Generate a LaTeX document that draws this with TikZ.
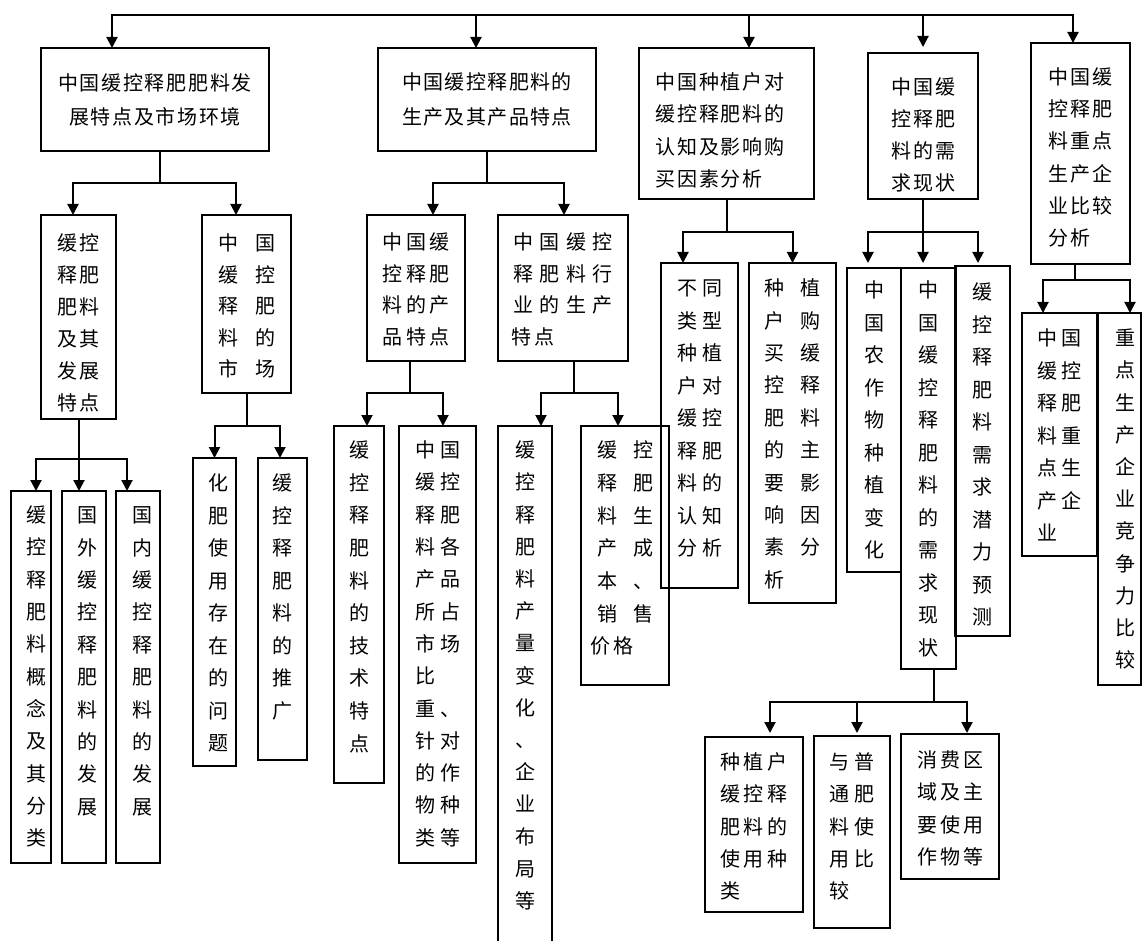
\documentclass[tikz,border=0pt]{standalone}
\usepackage{fontspec}
\setmainfont{Noto Sans CJK SC}
\usetikzlibrary{arrows.meta,calc}
\makeatletter
\newcommand\spaced[2]{\def\sp@w{#1}\@tfor\sp@c:=#2\do{\makebox[\sp@w][c]{\sp@c}}}
\makeatother
\tikzset{
  box/.style={draw,line width=1.4pt,inner xsep=0pt,outer sep=0pt},
  boxline/.style={line width=1.4pt},
  conn/.style={line width=2pt},
  arr/.style={line width=2pt,-{Triangle[width=11pt,length=11pt]}}
}
% box: name, x1, y1, x2, y2, pad to first char centre, column spec, baselineskip, rows
\newcommand\bx[9]{%
  \pgfmathsetmacro\bxw{#4-#2}%
  \pgfmathsetmacro\bxh{#5-#3}%
  \pgfmathsetmacro\bxs{#6-0.7*#8+7.6}%
  \pgfmathsetmacro\bxp{\bxh-2*\bxs}%
  \pgfmathsetmacro\bxcx{(#2+#4)/2}%
  \pgfmathsetmacro\bxcy{(#3+#5)/2}%
  \node[box,minimum width=\bxw pt,minimum height=\bxh pt,inner ysep=\bxs pt] (#1) at (\bxcx,\bxcy)
   {\parbox[c][\bxp pt][t]{\bxw pt}{\centering\fontsize{20pt}{#8pt}\selectfont\begin{tabular}{#7}#9\end{tabular}}};}
\begin{document}
\begin{tikzpicture}[x=1pt,y=-1pt]
\useasboundingbox (0,0) rectangle (1143,941);
\fill[white] (0,0) rectangle (1143,941);
\clip (0,0) rectangle (1143,941);

% level 1
\bx{B1}{41}{48}{269}{151}{35}{@{}c@{}}{34}{\spaced{21.7pt}{中国缓控释肥肥料发}\\\spaced{21.7pt}{展特点及市场环境}}
\bx{B2}{378}{48}{596}{151}{34}{@{}c@{}}{35}{\spaced{21.4pt}{中国缓控释肥料的}\\\spaced{21.4pt}{生产及其产品特点}}
\bx{B3}{639}{48}{814}{199}{34}{@{}l@{\hspace{13pt}}}{32.4}{\spaced{21.7pt}{中国种植户对}\\\spaced{21.7pt}{缓控释肥料的}\\\spaced{21.7pt}{认知及影响购}\\\spaced{21.7pt}{买因素分析}}
\bx{B4}{868}{53}{978}{199}{34}{@{}l@{}}{32}{\spaced{22pt}{中国缓}\\\spaced{22pt}{控释肥}\\\spaced{22pt}{料的需}\\\spaced{22pt}{求现状}}
\bx{B5}{1031}{43}{1130}{264}{34}{@{}l@{}}{32.2}{\spaced{22.3pt}{中国缓}\\\spaced{22.3pt}{控释肥}\\\spaced{22.3pt}{料重点}\\\spaced{22.3pt}{生产企}\\\spaced{22.3pt}{业比较}\\\spaced{22.3pt}{分析}}

% branch 1
\bx{A1}{41}{215}{116}{419}{28}{@{}l@{}}{32}{\spaced{22pt}{缓控}\\\spaced{22pt}{释肥}\\\spaced{22pt}{肥料}\\\spaced{22pt}{及其}\\\spaced{22pt}{发展}\\\spaced{22pt}{特点}}
\bx{A2}{202}{215}{291}{393}{28}{@{}l@{}}{31.5}{\spaced{37pt}{中国}\\\spaced{37pt}{缓控}\\\spaced{37pt}{释肥}\\\spaced{37pt}{料的}\\\spaced{37pt}{市场}}
\bx{A11}{11}{491}{51}{863}{24}{@{\hspace{10pt}}c@{}}{32.3}{缓\\控\\释\\肥\\料\\概\\念\\及\\其\\分\\类}
\bx{A12}{62}{491}{106}{863}{24}{@{\hspace{6pt}}c@{}}{32.4}{国\\外\\缓\\控\\释\\肥\\料\\的\\发\\展}
\bx{A13}{116}{491}{160}{863}{24}{@{\hspace{8pt}}c@{}}{32.4}{国\\内\\缓\\控\\释\\肥\\料\\的\\发\\展}
\bx{A21}{193}{458}{236}{766}{25}{@{\hspace{7pt}}c@{}}{32.5}{化\\肥\\使\\用\\存\\在\\的\\问\\题}
\bx{A22}{258}{458}{307}{760}{25}{@{}c@{}}{32.5}{缓\\控\\释\\肥\\料\\的\\推\\广}

% branch 2
\bx{C1}{367}{215}{465}{361}{27}{@{}c@{}}{31.7}{\spaced{23.3pt}{中国缓}\\\spaced{23.3pt}{控释肥}\\\spaced{23.3pt}{料的产}\\\spaced{23.3pt}{品特点}}
\bx{C2}{498}{215}{628}{361}{27}{@{}l@{}}{31.7}{\spaced{26.3pt}{中国缓控}\\\spaced{26.3pt}{释肥料行}\\\spaced{26.3pt}{业的生产}\\\spaced{23pt}{特点}}
\bx{C11}{334}{426}{384}{783}{24}{@{}c@{}}{32.6}{缓\\控\\释\\肥\\料\\的\\技\\术\\特\\点}
\bx{C12}{399}{426}{476}{863}{24}{@{}l@{}}{32.3}{\spaced{25pt}{中国}\\\spaced{25pt}{缓控}\\\spaced{25pt}{释肥}\\\spaced{25pt}{料各}\\\spaced{25pt}{产品}\\\spaced{25pt}{所占}\\\spaced{25pt}{市场}\\\spaced{25pt}{比}\\\spaced{25pt}{重、}\\\spaced{25pt}{针对}\\\spaced{25pt}{的作}\\\spaced{25pt}{物种}\\\spaced{25pt}{类等}}
\begin{scope}[box/.append style={draw=none}]
\bx{C21}{498}{426}{552}{926}{24}{@{}c@{}}{32.2}{缓\\控\\释\\肥\\料\\产\\量\\变\\化\\、\\企\\业\\布\\局\\等}
\end{scope}
\draw[boxline] ([yshift=-40pt]C21.south west) -- (C21.north west) -- (C21.north east) -- ([yshift=-40pt]C21.south east);
\bx{C22}{581}{426}{669}{685}{24}{@{}l@{}}{32.7}{\spaced{36pt}{缓控}\\\spaced{36pt}{释肥}\\\spaced{36pt}{料生}\\\spaced{36pt}{产成}\\\spaced{36pt}{本、}\\\spaced{36pt}{销售}\\\spaced{23pt}{价格}}

% branch 3
\bx{D1}{661}{263}{738}{588}{25}{@{}c@{}}{32.5}{\spaced{25pt}{不同}\\\spaced{25pt}{类型}\\\spaced{25pt}{种植}\\\spaced{25pt}{户对}\\\spaced{25pt}{缓控}\\\spaced{25pt}{释肥}\\\spaced{25pt}{料的}\\\spaced{25pt}{认知}\\\spaced{25pt}{分析}}
\bx{D2}{749}{263}{836}{603}{25}{@{}l@{}}{32.4}{\spaced{37pt}{种植}\\\spaced{37pt}{户购}\\\spaced{37pt}{买缓}\\\spaced{37pt}{控释}\\\spaced{37pt}{肥料}\\\spaced{37pt}{的主}\\\spaced{37pt}{要影}\\\spaced{37pt}{响因}\\\spaced{37pt}{素分}\\\spaced{37pt}{析}}

% branch 4
\bx{E1}{847}{268}{901}{572}{22}{@{}c@{}}{32.5}{中\\国\\农\\作\\物\\种\\植\\变\\化}
\bx{E2}{901}{268}{956}{669}{22}{@{}c@{}}{32.5}{中\\国\\缓\\控\\释\\肥\\料\\的\\需\\求\\现\\状}
\bx{E3}{955}{266}{1010}{636}{26}{@{}c@{}}{32.5}{缓\\控\\释\\肥\\料\\需\\求\\潜\\力\\预\\测}
\bx{F1}{705}{737}{803}{912}{25}{@{}l@{}}{32.2}{\spaced{24pt}{种植户}\\\spaced{24pt}{缓控释}\\\spaced{24pt}{肥料的}\\\spaced{24pt}{使用种}\\\spaced{24pt}{类}}
\bx{F2}{814}{736}{890}{928}{26}{@{}l@{}}{32.2}{\spaced{26pt}{与普}\\\spaced{26pt}{通肥}\\\spaced{26pt}{料使}\\\spaced{26pt}{用比}\\\spaced{26pt}{较}}
\bx{F3}{901}{734}{999}{879}{26}{@{}c@{}}{32.3}{\spaced{23pt}{消费区}\\\spaced{23pt}{域及主}\\\spaced{23pt}{要使用}\\\spaced{23pt}{作物等}}

% branch 5
\bx{G1}{1022}{313}{1097}{556}{25}{@{}l@{}}{32.5}{\spaced{24pt}{中国}\\\spaced{24pt}{缓控}\\\spaced{24pt}{释肥}\\\spaced{24pt}{料重}\\\spaced{24pt}{点生}\\\spaced{24pt}{产企}\\\spaced{24pt}{业}}
\bx{G2}{1098}{313}{1141}{685}{25}{@{\hspace{11pt}}c@{}}{32.2}{重\\点\\生\\产\\企\\业\\竞\\争\\力\\比\\较}

% connectors: top bus
\coordinate (T) at (592,15);
\draw[arr] (T) -| ([xshift=-43pt]B1.north);
\draw[arr] (T) -| ([xshift=-11pt]B2.north);
\draw[arr] (T) -| ([xshift=22.5pt]B3.north);
\draw[arr,shorten >=6pt] (T) -| (B4.north);
\draw[arr] (T) -| ([xshift=-7.5pt]B5.north);

% branch 1
\path ([xshift=5pt]B1.south) ++(0,32) coordinate (b1);
\draw[conn] ([xshift=5pt]B1.south) -- (b1);
\draw[arr] (b1) -| ([xshift=-5.5pt]A1.north);
\draw[arr] (b1) -| ([xshift=-10.5pt]A2.north);
\path (A1.south) ++(0,40) coordinate (a1);
\draw[conn] (A1.south) -- (a1);
\draw[arr] (a1) -| ([xshift=5pt]A11.north);
\draw[arr] (a1) -| ([xshift=-5pt]A12.north);
\draw[arr] (a1) -| ([xshift=-11pt]A13.north);
\path (A2.south) ++(0,33) coordinate (a2);
\draw[conn] (A2.south) -- (a2);
\draw[arr] (a2) -| (A21.north);
\draw[arr] (a2) -| ([xshift=-2.5pt]A22.north);

% branch 2
\path (B2.south) ++(0,32) coordinate (b2);
\draw[conn] (B2.south) -- (b2);
\draw[arr] (b2) -| ([xshift=17pt]C1.north);
\draw[arr] (b2) -| ([xshift=1pt]C2.north);
\path ([xshift=-6pt]C1.south) ++(0,32) coordinate (c1);
\draw[conn] ([xshift=-6pt]C1.south) -- (c1);
\draw[arr] (c1) -| ([xshift=8pt]C11.north);
\draw[arr] (c1) -| ([xshift=5.5pt]C12.north);
\path ([xshift=11pt]C2.south) ++(0,32) coordinate (c2);
\draw[conn] ([xshift=11pt]C2.south) -- (c2);
\draw[arr] (c2) -| ([xshift=16pt]C21.north);
\draw[arr] (c2) -| ([xshift=-7pt]C22.north);

% branch 3
\path (B3.south) ++(0,33) coordinate (b3);
\draw[conn] (B3.south) -- (b3);
\draw[arr] (b3) -| ([xshift=-16.5pt]D1.north);
\draw[arr] (b3) -| (D2.north);

% branch 4
\path (B4.south) ++(0,33) coordinate (b4);
\draw[conn] (B4.south) -- (b4);
\draw[arr,shorten >=5pt] (b4) -| ([xshift=-6pt]E1.north);
\draw[arr,shorten >=5pt] (b4) -| ([xshift=-5.5pt]E2.north);
\draw[arr,shorten >=3pt] (b4) -| ([xshift=-4.5pt]E3.north);
\path ([xshift=5.5pt]E2.south) ++(0,33) coordinate (e2);
\draw[conn] ([xshift=5.5pt]E2.south) -- (e2);
\draw[arr,shorten >=4pt] (e2) -| ([xshift=16pt]F1.north);
\draw[arr,shorten >=3pt] (e2) -| ([xshift=5pt]F2.north);
\draw[arr,shorten >=1pt] (e2) -| ([xshift=17pt]F3.north);

% branch 5
\path ([xshift=-5.5pt]B5.south) ++(0,16) coordinate (b5);
\draw[conn] ([xshift=-5.5pt]B5.south) -- (b5);
\draw[arr] (b5) -| ([xshift=-16.5pt]G1.north);
\draw[arr] (b5) -| ([xshift=10.5pt]G2.north);
\end{tikzpicture}
\end{document}
